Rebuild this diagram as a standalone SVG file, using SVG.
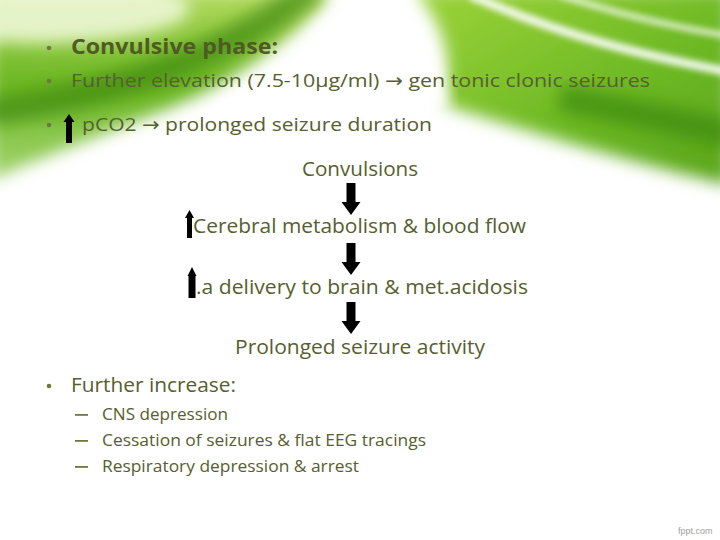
<svg xmlns="http://www.w3.org/2000/svg" width="720" height="540" viewBox="0 0 720 540">
<style>
.t{font-family:"Open Sans","Liberation Sans",sans-serif;fill:#56602e}
.b{font-weight:bold;fill:#4f5a24}
.bul{fill:#6d7a3c}
.arr{fill:#000}
.ar{font-family:"DejaVu Sans",sans-serif}
.wm{font-family:"Liberation Sans",sans-serif;font-size:9px;fill:#a0a0a0}
</style>
<defs>
<filter id="bl" x="-20%" y="-50%" width="140%" height="200%"><feGaussianBlur stdDeviation="8"/></filter>
<filter id="bl2" x="-20%" y="-50%" width="140%" height="200%"><feGaussianBlur stdDeviation="3"/></filter>
<linearGradient id="gL" x1="0" y1="0" x2="0" y2="1">
<stop offset="0" stop-color="#b6dc62"/><stop offset="0.5" stop-color="#6ab622"/><stop offset="1" stop-color="#7cc232" stop-opacity="0.7"/>
</linearGradient>
<linearGradient id="gR" x1="0" y1="0" x2="1" y2="1">
<stop offset="0" stop-color="#9ed43a"/><stop offset="0.6" stop-color="#6cb824"/><stop offset="1" stop-color="#5aa41c"/>
</linearGradient>
<path id="dn" d="M-4.5,0 H4.5 V19 H9.5 L0,32 L-9.5,19 H-4.5 Z"/>
</defs>
<rect width="720" height="540" fill="#fff"/>
<g id="background">
<path d="M-10,-10 H335 C295,40 230,85 160,112 C100,135 50,155 -10,180 Z" fill="url(#gL)" filter="url(#bl)"/>
<path d="M-20,112 C100,100 235,55 315,-15" stroke="#3f8a0e" stroke-width="28" fill="none" opacity="0.7" filter="url(#bl)"/>
<ellipse cx="40" cy="8" rx="150" ry="35" fill="#edf7d6" opacity="0.9" filter="url(#bl)"/>
<path d="M415,-10 H730 V185 C620,160 520,128 440,104 C458,62 442,25 415,-10 Z" fill="url(#gR)" filter="url(#bl)"/>
<path d="M340,-10 C385,25 420,50 438,110" stroke="#fff" stroke-width="26" fill="none" filter="url(#bl)"/>
<path d="M470,-5 C560,35 640,55 730,72" stroke="#fff" stroke-width="9" fill="none" opacity="0.9" filter="url(#bl2)"/>
<path d="M560,-5 C620,15 680,28 730,36" stroke="#fff" stroke-width="6" fill="none" opacity="0.8" filter="url(#bl2)"/>
<path d="M560,98 C620,110 680,122 735,135" stroke="#3e8a10" stroke-width="28" fill="none" opacity="0.7" filter="url(#bl)"/>
<path d="M200,128 C300,114 380,120 440,140" stroke="#fff" stroke-width="36" fill="none" opacity="0.7" filter="url(#bl)"/>
</g>
<g id="header">
<circle class="bul" cx="49" cy="48" r="2.3"/>
<text class="t b" x="71" y="54" font-size="21" textLength="207" lengthAdjust="spacingAndGlyphs">Convulsive phase:</text>
<circle class="bul" cx="49" cy="81" r="2.3"/>
<text class="t" x="71" y="87" font-size="19" textLength="579" lengthAdjust="spacingAndGlyphs">Further elevation (7.5-10µg/ml) <tspan class="ar">→</tspan> gen tonic clonic seizures</text>
<circle class="bul" cx="49" cy="125" r="2.3"/>
<path class="arr" d="M66,143 H72 V122 H74.5 L69,114 L63.5,122 H66 Z"/>
<text class="t" x="82" y="131" font-size="19" textLength="350" lengthAdjust="spacingAndGlyphs">pCO2 <tspan class="ar">→</tspan> prolonged seizure duration</text>
</g>
<g id="connectors">
<use href="#dn" class="arr" x="351" y="183"/>
<use href="#dn" class="arr" x="351" y="243"/>
<use href="#dn" class="arr" x="351" y="302"/>
</g>
<g id="n1"><text class="t" x="302" y="176" font-size="20" textLength="116" lengthAdjust="spacingAndGlyphs">Convulsions</text></g>
<g id="n2">
<path class="arr" d="M187,238 H192 V218 H194 L189.5,210 L185,218 H187 Z"/>
<text class="t" x="193" y="233" font-size="20" textLength="333" lengthAdjust="spacingAndGlyphs">Cerebral metabolism &amp; blood flow</text>
</g>
<g id="n3">
<path class="arr" d="M188.5,298 H195.5 V276 H196.5 L192,267 L187.5,276 H188.5 Z"/>
<text class="t" x="196" y="294" font-size="20" textLength="332" lengthAdjust="spacingAndGlyphs">.a delivery to brain &amp; met.acidosis</text>
</g>
<g id="n4"><text class="t" x="235" y="354" font-size="20" textLength="250" lengthAdjust="spacingAndGlyphs">Prolonged seizure activity</text></g>
<g id="footer">
<circle class="bul" cx="49" cy="386" r="2.3"/>
<text class="t" x="71" y="392" font-size="20" textLength="165" lengthAdjust="spacingAndGlyphs">Further increase:</text>
<rect class="bul" x="75" y="414" width="13" height="1.8"/>
<text class="t" x="102" y="420" font-size="17" textLength="126" lengthAdjust="spacingAndGlyphs">CNS depression</text>
<rect class="bul" x="75" y="440" width="13" height="1.8"/>
<text class="t" x="102" y="446" font-size="17" textLength="324" lengthAdjust="spacingAndGlyphs">Cessation of seizures &amp; flat EEG tracings</text>
<rect class="bul" x="75" y="466" width="13" height="1.8"/>
<text class="t" x="102" y="472" font-size="17" textLength="257" lengthAdjust="spacingAndGlyphs">Respiratory depression &amp; arrest</text>
<text class="wm" x="678" y="534">fppt.com</text>
</g>
</svg>
